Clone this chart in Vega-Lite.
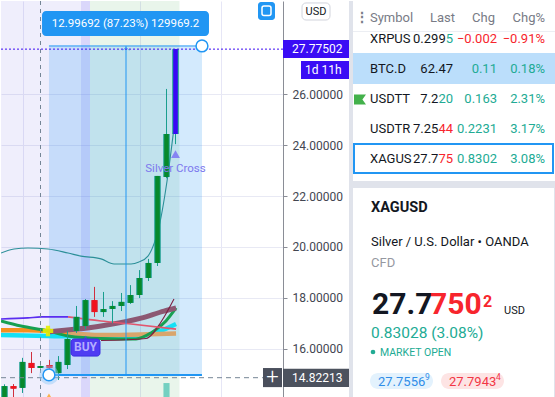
{
  "$schema": "https://vega.github.io/schema/vega-lite/v6.json",
  "padding": 0,
  "spacing": 0,
  "background": "#ffffff",
  "config": {"view": {"stroke": null}, "font": "Roboto", "concat": {"spacing": 0}, "scale": {"continuousPadding": 0}},
  "resolve": {"scale": {"color": "independent", "fill": "independent"}},
  "datasets": {
    "zones": [
      {"zone": "a", "x0": -0.389, "x1": 8.5},
      {"zone": "b", "x0": 8.5, "x1": 9.5},
      {"zone": "c", "x0": 9.5, "x1": 19.44}
    ],
    "candles": [
      {"i": 0, "o": 13.95, "h": 14.6, "l": 13.8, "c": 14.53, "d": "up"},
      {"i": 1, "o": 14.53, "h": 14.61, "l": 13.9, "c": 14.43, "d": "down"},
      {"i": 2, "o": 14.46, "h": 15.64, "l": 14.26, "c": 15.48, "d": "up"},
      {"i": 3, "o": 15.44, "h": 15.87, "l": 15.04, "c": 15.24, "d": "down"},
      {"i": 4, "o": 15.24, "h": 15.34, "l": 15.22, "c": 15.32, "d": "up"},
      {"i": 5, "o": 15.36, "h": 15.56, "l": 15.2, "c": 15.24, "d": "down"},
      {"i": 6, "o": 15.04, "h": 15.71, "l": 14.77, "c": 15.48, "d": "up"},
      {"i": 7, "o": 15.36, "h": 16.7, "l": 15.2, "c": 16.38, "d": "up"},
      {"i": 8, "o": 16.7, "h": 17.68, "l": 16.62, "c": 17.25, "d": "up"},
      {"i": 9, "o": 16.89, "h": 17.95, "l": 16.77, "c": 17.91, "d": "up"},
      {"i": 10, "o": 17.91, "h": 18.43, "l": 17.25, "c": 17.44, "d": "down"},
      {"i": 11, "o": 17.44, "h": 18.23, "l": 17.25, "c": 17.56, "d": "up"},
      {"i": 12, "o": 17.56, "h": 17.87, "l": 17.01, "c": 17.68, "d": "up"},
      {"i": 13, "o": 17.68, "h": 18.19, "l": 17.48, "c": 17.84, "d": "up"},
      {"i": 14, "o": 17.8, "h": 18.5, "l": 17.76, "c": 18.11, "d": "up"},
      {"i": 15, "o": 18.11, "h": 19.09, "l": 17.99, "c": 18.78, "d": "up"},
      {"i": 16, "o": 18.78, "h": 19.53, "l": 18.66, "c": 19.37, "d": "up"},
      {"i": 17, "o": 19.37, "h": 22.79, "l": 19.25, "c": 22.79, "d": "up"},
      {"i": 18, "o": 22.75, "h": 26.21, "l": 22.7, "c": 24.44, "d": "up"},
      {"i": 19, "o": 24.44, "h": 27.78, "l": 24.04, "c": 27.775, "d": "live"}
    ],
    "mas": [
      {"s": "cyan", "i": -0.39, "v": 16.54}, {"s": "cyan", "i": 4.83, "v": 16.5}, {"s": "cyan", "i": 10.72, "v": 16.46}, {"s": "cyan", "i": 15.17, "v": 16.5}, {"s": "cyan", "i": 17.06, "v": 16.66}, {"s": "cyan", "i": 19.06, "v": 16.97},
      {"s": "orange", "i": -0.39, "v": 16.73}, {"s": "orange", "i": 2.61, "v": 16.73}, {"s": "orange", "i": 4.83, "v": 16.7}, {"s": "orange", "i": 7.06, "v": 16.62},
      {"s": "tan", "i": 7.06, "v": 16.62}, {"s": "tan", "i": 10.72, "v": 16.54}, {"s": "tan", "i": 15.17, "v": 16.56}, {"s": "tan", "i": 19.06, "v": 16.6},
      {"s": "green", "i": -0.39, "v": 17.09}, {"s": "green", "i": 1.83, "v": 16.89}, {"s": "green", "i": 4.83, "v": 16.7}, {"s": "green", "i": 7.06, "v": 16.5}, {"s": "green", "i": 10.72, "v": 16.4}, {"s": "green", "i": 14.61, "v": 16.38}, {"s": "green", "i": 16.28, "v": 16.62}, {"s": "green", "i": 17.94, "v": 17.09}, {"s": "green", "i": 19.06, "v": 17.6},
      {"s": "mauve", "i": 4.83, "v": 16.66}, {"s": "mauve", "i": 10.72, "v": 16.89}, {"s": "mauve", "i": 15.17, "v": 17.2}, {"s": "mauve", "i": 17.72, "v": 17.48}, {"s": "mauve", "i": 19.06, "v": 17.6},
      {"s": "bb", "i": -0.39, "v": 19.76}, {"s": "bb", "i": 1.06, "v": 19.92}, {"s": "bb", "i": 2.61, "v": 19.96}, {"s": "bb", "i": 4.83, "v": 19.92}, {"s": "bb", "i": 7.06, "v": 19.76}, {"s": "bb", "i": 8.5, "v": 19.64}, {"s": "bb", "i": 10.72, "v": 19.53}, {"s": "bb", "i": 12.17, "v": 19.33}, {"s": "bb", "i": 14.06, "v": 19.33}, {"s": "bb", "i": 14.94, "v": 19.41}, {"s": "bb", "i": 15.94, "v": 19.64}, {"s": "bb", "i": 16.61, "v": 20.12}, {"s": "bb", "i": 17.06, "v": 20.63}, {"s": "bb", "i": 18.06, "v": 22.59}, {"s": "bb", "i": 18.83, "v": 24.68},
      {"s": "purple", "i": -0.39, "v": 17.17}, {"s": "purple", "i": 2.61, "v": 17.21}, {"s": "purple", "i": 4.06, "v": 17.25}, {"s": "purple", "i": 7.06, "v": 17.25},
      {"s": "pink", "i": 7.06, "v": 17.25}, {"s": "pink", "i": 10.72, "v": 17.09}, {"s": "pink", "i": 14.06, "v": 16.97}, {"s": "pink", "i": 19.06, "v": 16.77},
      {"s": "darkred", "i": 10.72, "v": 16.32}, {"s": "darkred", "i": 15.72, "v": 16.4}, {"s": "darkred", "i": 17.39, "v": 17.05}, {"s": "darkred", "i": 18.83, "v": 17.95}
    ],
    "watch": [
      {"sym": "XRPUS", "lp": "0.299", "hi": "5", "hd": "up", "chg": "−0.002", "pct": "−0.91%", "d": "down"},
      {"sym": "BTC.D", "lp": "62.47", "hi": "", "hd": "up", "chg": "0.11", "pct": "0.18%", "d": "up"},
      {"sym": "USDTT", "lp": "7.2", "hi": "20", "hd": "up", "chg": "0.163", "pct": "2.31%", "d": "up"},
      {"sym": "USDTR", "lp": "7.25", "hi": "44", "hd": "down", "chg": "0.2231", "pct": "3.17%", "d": "up"},
      {"sym": "XAGUS", "lp": "27.7", "hi": "75", "hd": "down", "chg": "0.8302", "pct": "3.08%", "d": "up"}
    ]
  },
  "hconcat": [
    {
      "width": 282,
      "height": 397,
      "layer": [
        {
          "data": {"name": "zones"},
          "mark": {"type": "rect", "clip": true},
          "encoding": {
            "x": {"field": "x0", "type": "quantitative", "title": null, "scale": {"domain": [-0.389, 30.944], "nice": false, "zero": false, "padding": 0},
                  "axis": {"values": [2, 15, 24], "grid": true, "gridColor": "#e6e6f6", "labels": false, "ticks": false, "domain": false, "title": null, "minExtent": 0, "maxExtent": 0}},
            "x2": {"field": "x1"},
            "y": {"datum": 14.062, "type": "quantitative", "title": null, "scale": {"domain": [14.062, 29.667], "nice": false, "zero": false, "padding": 0},
                  "axis": {"orient": "right", "values": [16, 18, 20, 22, 24, 26], "format": ".5f", "title": null, "grid": true, "gridColor": "#e8e9f4",
                           "labelFontSize": 12, "labelColor": "#434651", "labelFont": "Roboto", "tickSize": 4, "tickColor": "#8a8d96", "domainColor": "#8a8d96",
                           "labelPadding": 5, "minExtent": 66, "maxExtent": 66}},
            "y2": {"datum": 29.667},
            "fill": {"field": "zone", "type": "nominal", "legend": null,
                     "scale": {"domain": ["a", "b", "c"], "range": ["rgba(122,113,230,0.12)", "rgba(107,95,239,0.25)", "rgba(72,172,88,0.12)"]}}
          }
        },
        {
          "data": {"values": [{}]},
          "mark": {"type": "rect", "fill": "#2196f3", "opacity": 0.2},
          "encoding": {
            "x": {"datum": 4.94, "type": "quantitative"}, "x2": {"datum": 21.94},
            "y": {"datum": 14.97, "type": "quantitative"}, "y2": {"datum": 27.9}
          }
        },
        {
          "data": {"values": [{}]},
          "mark": {"type": "rect", "fill": "#74d0c1"},
          "encoding": {
            "x": {"datum": 17.66, "type": "quantitative"}, "x2": {"datum": 18.34},
            "y": {"datum": 14.062, "type": "quantitative"}, "y2": {"datum": 14.65}
          }
        },
        {
          "data": {"name": "mas"},
          "transform": [{"filter": "datum.s == 'cyan' || datum.s == 'orange' || datum.s == 'tan'"}],
          "mark": {"type": "line", "interpolate": "monotone", "strokeWidth": 4.5, "clip": true},
          "encoding": {
            "x": {"field": "i", "type": "quantitative", "title": null},
            "y": {"field": "v", "type": "quantitative", "title": null},
            "color": {"field": "s", "type": "nominal", "legend": null,
                      "scale": {"domain": ["cyan", "orange", "tan", "green", "mauve", "bb", "purple", "pink", "darkred"],
                                "range": ["#14e0f5", "#f5901e", "#d9a56b", "#17a050", "#8c5872", "#2b8f98", "#5b2ef0", "#e2566e", "#7d1e40"]}}
          }
        },
        {
          "data": {"name": "mas"},
          "transform": [{"filter": "datum.s == 'green'"}],
          "mark": {"type": "line", "interpolate": "monotone", "strokeWidth": 3, "clip": true},
          "encoding": {
            "x": {"field": "i", "type": "quantitative", "title": null},
            "y": {"field": "v", "type": "quantitative", "title": null},
            "color": {"field": "s", "type": "nominal", "legend": null}
          }
        },
        {
          "data": {"name": "mas"},
          "transform": [{"filter": "datum.s == 'mauve'"}],
          "mark": {"type": "line", "interpolate": "monotone", "strokeWidth": 5, "clip": true},
          "encoding": {
            "x": {"field": "i", "type": "quantitative", "title": null},
            "y": {"field": "v", "type": "quantitative", "title": null},
            "color": {"field": "s", "type": "nominal", "legend": null}
          }
        },
        {
          "data": {"name": "mas"},
          "transform": [{"filter": "datum.s == 'bb' || datum.s == 'darkred'"}],
          "mark": {"type": "line", "interpolate": "monotone", "strokeWidth": 1.1, "clip": true},
          "encoding": {
            "x": {"field": "i", "type": "quantitative", "title": null},
            "y": {"field": "v", "type": "quantitative", "title": null},
            "color": {"field": "s", "type": "nominal", "legend": null}
          }
        },
        {
          "data": {"name": "mas"},
          "transform": [{"filter": "datum.s == 'purple' || datum.s == 'pink'"}],
          "mark": {"type": "line", "interpolate": "monotone", "strokeWidth": 1.6, "clip": true},
          "encoding": {
            "x": {"field": "i", "type": "quantitative", "title": null},
            "y": {"field": "v", "type": "quantitative", "title": null},
            "color": {"field": "s", "type": "nominal", "legend": null}
          }
        },
        {
          "data": {"name": "candles"},
          "transform": [{"filter": "datum.d != 'down'"}],
          "mark": {"type": "rule", "color": "#1a9e8e", "strokeWidth": 1, "clip": true},
          "encoding": {
            "x": {"field": "i", "type": "quantitative", "title": null},
            "y": {"field": "l", "type": "quantitative", "title": null}, "y2": {"field": "h"}
          }
        },
        {
          "data": {"name": "candles"},
          "transform": [{"filter": "datum.d == 'down'"}],
          "mark": {"type": "rule", "color": "#d0303e", "strokeWidth": 1, "clip": true},
          "encoding": {
            "x": {"field": "i", "type": "quantitative", "title": null},
            "y": {"field": "l", "type": "quantitative", "title": null}, "y2": {"field": "h"}
          }
        },
        {
          "data": {"name": "candles"},
          "transform": [{"filter": "datum.d != 'down'"}],
          "mark": {"type": "rule", "color": "#1a9e8e", "strokeWidth": 6.5, "clip": true},
          "encoding": {
            "x": {"field": "i", "type": "quantitative", "title": null},
            "y": {"field": "o", "type": "quantitative", "title": null}, "y2": {"field": "c"}
          }
        },
        {
          "data": {"name": "candles"},
          "transform": [{"filter": "datum.d == 'down'"}],
          "mark": {"type": "rule", "color": "#d0303e", "strokeWidth": 6.5, "clip": true},
          "encoding": {
            "x": {"field": "i", "type": "quantitative", "title": null},
            "y": {"field": "o", "type": "quantitative", "title": null}, "y2": {"field": "c"}
          }
        },
        {
          "data": {"name": "candles"},
          "transform": [{"filter": "datum.d == 'up'"}],
          "mark": {"type": "rule", "color": "#07892b", "strokeWidth": 4.5, "clip": true},
          "encoding": {
            "x": {"field": "i", "type": "quantitative", "title": null},
            "y": {"field": "o", "type": "quantitative", "title": null}, "y2": {"field": "c"}
          }
        },
        {
          "data": {"name": "candles"},
          "transform": [{"filter": "datum.d == 'down'"}],
          "mark": {"type": "rule", "color": "#f2121c", "strokeWidth": 4.5, "clip": true},
          "encoding": {
            "x": {"field": "i", "type": "quantitative", "title": null},
            "y": {"field": "o", "type": "quantitative", "title": null}, "y2": {"field": "c"}
          }
        },
        {
          "data": {"name": "candles"},
          "transform": [{"filter": "datum.d == 'live'"}],
          "mark": {"type": "rule", "color": "#3a06f6", "strokeWidth": 4.5, "clip": true},
          "encoding": {
            "x": {"field": "i", "type": "quantitative", "title": null},
            "y": {"field": "o", "type": "quantitative", "title": null}, "y2": {"field": "c"}
          }
        },
        {
          "data": {"values": [{}]},
          "mark": {"type": "rule", "color": "#2196f3", "strokeWidth": 1},
          "encoding": {"x": {"datum": 4.94, "type": "quantitative"}, "x2": {"datum": 21.94}, "y": {"datum": 27.9, "type": "quantitative"}}
        },
        {
          "data": {"values": [{}]},
          "mark": {"type": "rule", "color": "#2196f3", "strokeWidth": 2},
          "encoding": {"x": {"datum": 4.94, "type": "quantitative"}, "x2": {"datum": 21.94}, "y": {"datum": 14.97, "type": "quantitative"}}
        },
        {
          "data": {"values": [{}]},
          "mark": {"type": "rule", "color": "#2196f3", "strokeWidth": 1},
          "encoding": {"x": {"datum": 13.5, "type": "quantitative"}, "y": {"datum": 27.9, "type": "quantitative"}, "y2": {"datum": 14.97}}
        },
        {
          "data": {"values": [{}]},
          "mark": {"type": "point", "shape": "M-1,0.6L0,-0.4L1,0.6", "filled": false, "stroke": "#2196f3", "strokeWidth": 1, "size": 40},
          "encoding": {"x": {"datum": 13.5, "type": "quantitative"}, "y": {"datum": 27.8, "type": "quantitative"}}
        },
        {
          "data": {"values": [{}]},
          "mark": {"type": "rule", "color": "#758696", "strokeWidth": 1, "strokeDash": [4, 4]},
          "encoding": {"x": {"datum": 4.0, "type": "quantitative"}}
        },
        {
          "data": {"values": [{}]},
          "mark": {"type": "rule", "color": "#758696", "strokeWidth": 1, "strokeDash": [5, 4]},
          "encoding": {"x": {"value": 0}, "x2": {"value": 262}, "y": {"datum": 14.86, "type": "quantitative"}}
        },
        {
          "data": {"values": [{}]},
          "mark": {"type": "rule", "color": "#3d0cf2", "strokeWidth": 1, "strokeDash": [2, 2]},
          "encoding": {"y": {"datum": 27.775, "type": "quantitative"}}
        },
        {
          "data": {"values": [{}]},
          "mark": {"type": "point", "shape": "cross", "filled": true, "fill": "#e6f000", "size": 110, "opacity": 0.9},
          "encoding": {"x": {"datum": 4.83, "type": "quantitative"}, "y": {"datum": 16.7, "type": "quantitative"}}
        },
        {
          "data": {"values": [{}]},
          "mark": {"type": "point", "shape": "triangle-up", "filled": true, "fill": "#ff9800", "size": 30, "clip": true},
          "encoding": {"x": {"datum": 4.94, "type": "quantitative"}, "y": {"datum": 14.15, "type": "quantitative"}}
        },
        {
          "data": {"values": [{}]},
          "mark": {"type": "point", "shape": "triangle-up", "filled": true, "fill": "#4f3cf2", "size": 25},
          "encoding": {"x": {"datum": 9.0, "type": "quantitative"}, "y": {"datum": 16.42, "type": "quantitative"}}
        },
        {
          "data": {"values": [{}]},
          "mark": {"type": "rect", "fill": "#4f3cf2", "stroke": "#3b2ee0", "strokeWidth": 1, "cornerRadius": 3},
          "encoding": {"x": {"datum": 7.39, "type": "quantitative"}, "x2": {"datum": 10.61}, "y": {"datum": 16.38, "type": "quantitative"}, "y2": {"datum": 15.71}}
        },
        {
          "data": {"values": [{}]},
          "mark": {"type": "text", "text": "BUY", "color": "#b4adff", "fontSize": 12, "fontWeight": "bold", "align": "center", "baseline": "middle"},
          "encoding": {"x": {"datum": 9.0, "type": "quantitative"}, "y": {"datum": 16.05, "type": "quantitative"}}
        },
        {
          "data": {"values": [{}]},
          "mark": {"type": "point", "shape": "triangle-up", "filled": true, "fill": "#6c5cf5", "size": 80},
          "encoding": {"x": {"datum": 19.0, "type": "quantitative"}, "y": {"datum": 23.65, "type": "quantitative"}}
        },
        {
          "data": {"values": [{}]},
          "mark": {"type": "text", "text": "Silver Cross", "color": "#7d78ee", "fontSize": 11.5, "align": "center", "baseline": "middle"},
          "encoding": {"x": {"datum": 19.0, "type": "quantitative"}, "y": {"datum": 23.08, "type": "quantitative"}}
        },
        {
          "data": {"values": [{}]},
          "mark": {"type": "point", "shape": "circle", "filled": true, "fill": "#90caf9", "opacity": 0.45, "size": 380},
          "encoding": {"x": {"datum": 4.94, "type": "quantitative"}, "y": {"datum": 14.97, "type": "quantitative"}}
        },
        {
          "data": {"values": [{}]},
          "mark": {"type": "point", "shape": "circle", "filled": true, "fill": "#ffffff", "stroke": "#2196f3", "strokeWidth": 1.5, "size": 140, "opacity": 1},
          "encoding": {"x": {"datum": 4.94, "type": "quantitative"}, "y": {"datum": 14.97, "type": "quantitative"}}
        },
        {
          "data": {"values": [{}]},
          "mark": {"type": "point", "shape": "circle", "filled": true, "fill": "#ffffff", "stroke": "#2196f3", "strokeWidth": 1.5, "size": 140, "opacity": 1},
          "encoding": {"x": {"datum": 21.94, "type": "quantitative"}, "y": {"datum": 27.9, "type": "quantitative"}}
        },
        {
          "data": {"values": [{}]},
          "mark": {"type": "rect", "fill": "#2196f3", "cornerRadius": 4},
          "encoding": {"x": {"datum": 4.17, "type": "quantitative"}, "x2": {"datum": 22.72}, "y": {"datum": 29.27, "type": "quantitative"}, "y2": {"datum": 28.29}}
        },
        {
          "data": {"values": [{}]},
          "mark": {"type": "text", "text": "12.99692 (87.23%) 129969.2", "color": "#ffffff", "fontSize": 11.5, "align": "center", "baseline": "middle"},
          "encoding": {"x": {"datum": 13.45, "type": "quantitative"}, "y": {"datum": 28.78, "type": "quantitative"}}
        },
        {
          "data": {"values": [{}]},
          "mark": {"type": "rect", "fill": "#2196f3", "cornerRadius": 3},
          "encoding": {"x": {"value": 257}, "x2": {"value": 274}, "y": {"datum": 29.63, "type": "quantitative"}, "y2": {"datum": 28.92}}
        },
        {
          "data": {"values": [{}]},
          "mark": {"type": "rect", "fill": null, "fillOpacity": 0, "stroke": "#ffffff", "strokeWidth": 1.5, "cornerRadius": 2},
          "encoding": {"x": {"value": 261}, "x2": {"value": 270}, "y": {"datum": 29.47, "type": "quantitative"}, "y2": {"datum": 29.1}}
        },
        {
          "data": {"values": [{}]},
          "mark": {"type": "rect", "fill": "#ffffff", "stroke": "#d1d4dc", "strokeWidth": 1, "cornerRadius": 4},
          "encoding": {"x": {"value": 301}, "x2": {"value": 329}, "y": {"datum": 29.59, "type": "quantitative"}, "y2": {"datum": 28.92}}
        },
        {
          "data": {"values": [{}]},
          "mark": {"type": "text", "text": "USD", "color": "#131722", "fontSize": 11, "align": "center", "baseline": "middle"},
          "encoding": {"x": {"value": 315}, "y": {"datum": 29.25, "type": "quantitative"}}
        },
        {
          "data": {"values": [{}]},
          "mark": {"type": "rect", "fill": "#3a0cf5"},
          "encoding": {"x": {"value": 282}, "x2": {"value": 348}, "y": {"datum": 28.13, "type": "quantitative"}, "y2": {"datum": 27.43}}
        },
        {
          "data": {"values": [{}]},
          "mark": {"type": "text", "text": "27.77502", "color": "#ffffff", "fontSize": 12, "align": "left", "baseline": "middle"},
          "encoding": {"x": {"value": 291}, "y": {"datum": 27.775, "type": "quantitative"}}
        },
        {
          "data": {"values": [{}]},
          "mark": {"type": "rect", "fill": "#3a0cf5"},
          "encoding": {"x": {"value": 300}, "x2": {"value": 348}, "y": {"datum": 27.31, "type": "quantitative"}, "y2": {"datum": 26.6}}
        },
        {
          "data": {"values": [{}]},
          "mark": {"type": "text", "text": "1d 11h", "color": "#ffffff", "fontSize": 12, "align": "left", "baseline": "middle"},
          "encoding": {"x": {"value": 304}, "y": {"datum": 26.95, "type": "quantitative"}}
        },
        {
          "data": {"values": [{}]},
          "mark": {"type": "rect", "fill": "#4c525e"},
          "encoding": {"x": {"value": 282}, "x2": {"value": 348}, "y": {"datum": 15.21, "type": "quantitative"}, "y2": {"datum": 14.49}}
        },
        {
          "data": {"values": [{}]},
          "mark": {"type": "text", "text": "14.82213", "color": "#ffffff", "fontSize": 12, "align": "left", "baseline": "middle"},
          "encoding": {"x": {"value": 291}, "y": {"datum": 14.85, "type": "quantitative"}}
        },
        {
          "data": {"values": [{}]},
          "mark": {"type": "rect", "fill": "#4a4f5c"},
          "encoding": {"x": {"value": 262}, "x2": {"value": 281}, "y": {"datum": 15.24, "type": "quantitative"}, "y2": {"datum": 14.49}}
        },
        {
          "data": {"values": [{}]},
          "mark": {"type": "text", "text": "+", "color": "#ffffff", "fontSize": 22, "fontWeight": 300, "align": "center", "baseline": "middle"},
          "encoding": {"x": {"value": 271.5}, "y": {"datum": 14.88, "type": "quantitative"}}
        }
      ]
    },
    {
      "width": 207,
      "height": 397,
      "data": {"values": [{}]},
      "layer": [
        {"mark": {"type": "rect", "fill": "#e0e3eb"}, "encoding": {"x": {"value": 0}, "x2": {"value": 4}, "y": {"value": 0}, "y2": {"value": 397}}},
        {"mark": {"type": "rect", "fill": "#eceef3"}, "encoding": {"x": {"value": 4}, "x2": {"value": 207}, "y": {"value": 30}, "y2": {"value": 31}}},
        {"mark": {"type": "rect", "fill": "#bbdefb"}, "encoding": {"x": {"value": 4}, "x2": {"value": 207}, "y": {"value": 52}, "y2": {"value": 83}}},
        {"mark": {"type": "point", "shape": "M-1,-0.85L1,-0.85L0.4,0L1,0.85L-1,0.85Z", "filled": true, "fill": "#43b14b", "strokeWidth": 0, "size": 144, "opacity": 1},
         "encoding": {"x": {"value": 11}, "y": {"value": 98.5}}},
        {"mark": {"type": "rect", "fill": "#e0e3eb"}, "encoding": {"x": {"value": 4}, "x2": {"value": 207}, "y": {"value": 180}, "y2": {"value": 187}}},
        {"mark": {"type": "rect", "fill": "#e0e3eb"}, "encoding": {"x": {"value": 205}, "x2": {"value": 207}, "y": {"value": 187}, "y2": {"value": 397}}},
        {"mark": {"type": "rect", "fill": null, "fillOpacity": 0, "stroke": "#2196f3", "strokeWidth": 2},
         "encoding": {"x": {"value": 5}, "x2": {"value": 204}, "y": {"value": 143}, "y2": {"value": 172}}},
        {"mark": {"type": "text", "text": "⋮", "color": "#787b86", "fontSize": 14, "fontWeight": "bold", "align": "center", "baseline": "middle"},
         "encoding": {"x": {"value": 13}, "y": {"value": 17}}},
        {"mark": {"type": "text", "text": "Symbol", "color": "#787b86", "fontSize": 13, "align": "left", "baseline": "middle"},
         "encoding": {"x": {"value": 21}, "y": {"value": 17}}},
        {"mark": {"type": "text", "text": "Last", "color": "#787b86", "fontSize": 13, "align": "right", "baseline": "middle"},
         "encoding": {"x": {"value": 106}, "y": {"value": 17}}},
        {"mark": {"type": "text", "text": "Chg", "color": "#787b86", "fontSize": 13, "align": "right", "baseline": "middle"},
         "encoding": {"x": {"value": 146}, "y": {"value": 17}}},
        {"mark": {"type": "text", "text": "Chg%", "color": "#787b86", "fontSize": 13, "align": "right", "baseline": "middle"},
         "encoding": {"x": {"value": 196}, "y": {"value": 17}}},
        {"data": {"name": "watch"},
         "mark": {"type": "text", "color": "#131722", "fontSize": 13, "align": "left", "baseline": "middle"},
         "encoding": {"x": {"value": 21},
                      "y": {"field": "sym", "type": "nominal", "axis": null, "scale": {"type": "point", "domain": ["XRPUS", "BTC.D", "USDTT", "USDTR", "XAGUS"], "range": [38.3, 157.7], "padding": 0}},
                      "text": {"field": "sym"}}},
        {"data": {"name": "watch"},
         "transform": [{"filter": "datum.hi == ''"}],
         "mark": {"type": "text", "color": "#131722", "fontSize": 13, "align": "right", "baseline": "middle"},
         "encoding": {"x": {"value": 104}, "y": {"field": "sym", "type": "nominal", "axis": null}, "text": {"field": "lp"}}},
        {"data": {"name": "watch"},
         "transform": [{"filter": "length(datum.hi) == 1"}],
         "mark": {"type": "text", "color": "#131722", "fontSize": 13, "align": "right", "baseline": "middle"},
         "encoding": {"x": {"value": 96.7}, "y": {"field": "sym", "type": "nominal", "axis": null}, "text": {"field": "lp"}}},
        {"data": {"name": "watch"},
         "transform": [{"filter": "length(datum.hi) == 2"}],
         "mark": {"type": "text", "color": "#131722", "fontSize": 13, "align": "right", "baseline": "middle"},
         "encoding": {"x": {"value": 89.4}, "y": {"field": "sym", "type": "nominal", "axis": null}, "text": {"field": "lp"}}},
        {"data": {"name": "watch"},
         "transform": [{"filter": "datum.hi != ''"}],
         "mark": {"type": "text", "fontSize": 13, "align": "right", "baseline": "middle"},
         "encoding": {"x": {"value": 104}, "y": {"field": "sym", "type": "nominal", "axis": null}, "text": {"field": "hi"},
                      "color": {"field": "hd", "type": "nominal", "legend": null, "scale": {"domain": ["up", "down"], "range": ["#22ab94", "#f7252d"]}}}},
        {"data": {"name": "watch"},
         "mark": {"type": "text", "fontSize": 13, "align": "right", "baseline": "middle"},
         "encoding": {"x": {"value": 148}, "y": {"field": "sym", "type": "nominal", "axis": null}, "text": {"field": "chg"},
                      "color": {"field": "d", "type": "nominal", "legend": null, "scale": {"domain": ["up", "down"], "range": ["#22ab94", "#f7252d"]}}}},
        {"data": {"name": "watch"},
         "mark": {"type": "text", "fontSize": 13, "align": "right", "baseline": "middle"},
         "encoding": {"x": {"value": 196}, "y": {"field": "sym", "type": "nominal", "axis": null}, "text": {"field": "pct"},
                      "color": {"field": "d", "type": "nominal", "legend": null, "scale": {"domain": ["up", "down"], "range": ["#22ab94", "#f7252d"]}}}},
        {"mark": {"type": "text", "text": "XAGUSD", "color": "#131722", "fontSize": 14.5, "fontWeight": "bold", "align": "left", "baseline": "middle"},
         "encoding": {"x": {"value": 22}, "y": {"value": 207}}},
        {"mark": {"type": "text", "text": "Silver / U.S. Dollar • OANDA", "color": "#131722", "fontSize": 13, "align": "left", "baseline": "middle"},
         "encoding": {"x": {"value": 22}, "y": {"value": 241}}},
        {"mark": {"type": "text", "text": "CFD", "color": "#9598a1", "fontSize": 13, "align": "left", "baseline": "middle"},
         "encoding": {"x": {"value": 22}, "y": {"value": 262}}},
        {"mark": {"type": "text", "text": "27.7", "color": "#131722", "fontSize": 30, "fontWeight": "bold", "align": "left", "baseline": "alphabetic"},
         "encoding": {"x": {"value": 23}, "y": {"value": 313}}},
        {"mark": {"type": "text", "text": "750", "color": "#f7252d", "fontSize": 30, "fontWeight": "bold", "align": "left", "baseline": "alphabetic"},
         "encoding": {"x": {"value": 81}, "y": {"value": 313}}},
        {"mark": {"type": "text", "text": "2", "color": "#f7252d", "fontSize": 16, "fontWeight": "bold", "align": "left", "baseline": "alphabetic"},
         "encoding": {"x": {"value": 134}, "y": {"value": 306}}},
        {"mark": {"type": "text", "text": "USD", "color": "#131722", "fontSize": 11, "align": "left", "baseline": "alphabetic"},
         "encoding": {"x": {"value": 155}, "y": {"value": 313}}},
        {"mark": {"type": "text", "text": "0.83028 (3.08%)", "color": "#22ab94", "fontSize": 15.5, "align": "left", "baseline": "middle"},
         "encoding": {"x": {"value": 22}, "y": {"value": 332}}},
        {"mark": {"type": "point", "shape": "circle", "filled": true, "fill": "#22ab94", "size": 22, "opacity": 1},
         "encoding": {"x": {"value": 24}, "y": {"value": 351}}},
        {"mark": {"type": "text", "text": "MARKET OPEN", "color": "#22ab94", "fontSize": 10.5, "align": "left", "baseline": "middle"},
         "encoding": {"x": {"value": 31}, "y": {"value": 351.5}}},
        {"mark": {"type": "rect", "fill": "#e3f2fd", "cornerRadius": 8},
         "encoding": {"x": {"value": 21}, "x2": {"value": 84}, "y": {"value": 372}, "y2": {"value": 388}}},
        {"mark": {"type": "text", "text": "27.7556", "color": "#2f8de8", "fontSize": 13, "align": "left", "baseline": "middle"},
         "encoding": {"x": {"value": 29}, "y": {"value": 380.5}}},
        {"mark": {"type": "text", "text": "9", "color": "#2f8de8", "fontSize": 8.5, "align": "left", "baseline": "middle"},
         "encoding": {"x": {"value": 76}, "y": {"value": 376}}},
        {"mark": {"type": "rect", "fill": "#fde4e4", "cornerRadius": 8},
         "encoding": {"x": {"value": 92}, "x2": {"value": 155}, "y": {"value": 372}, "y2": {"value": 388}}},
        {"mark": {"type": "text", "text": "27.7943", "color": "#f23645", "fontSize": 13, "align": "left", "baseline": "middle"},
         "encoding": {"x": {"value": 100}, "y": {"value": 380.5}}},
        {"mark": {"type": "text", "text": "4", "color": "#f23645", "fontSize": 8.5, "align": "left", "baseline": "middle"},
         "encoding": {"x": {"value": 147}, "y": {"value": 376}}}
      ]
    }
  ]
}
